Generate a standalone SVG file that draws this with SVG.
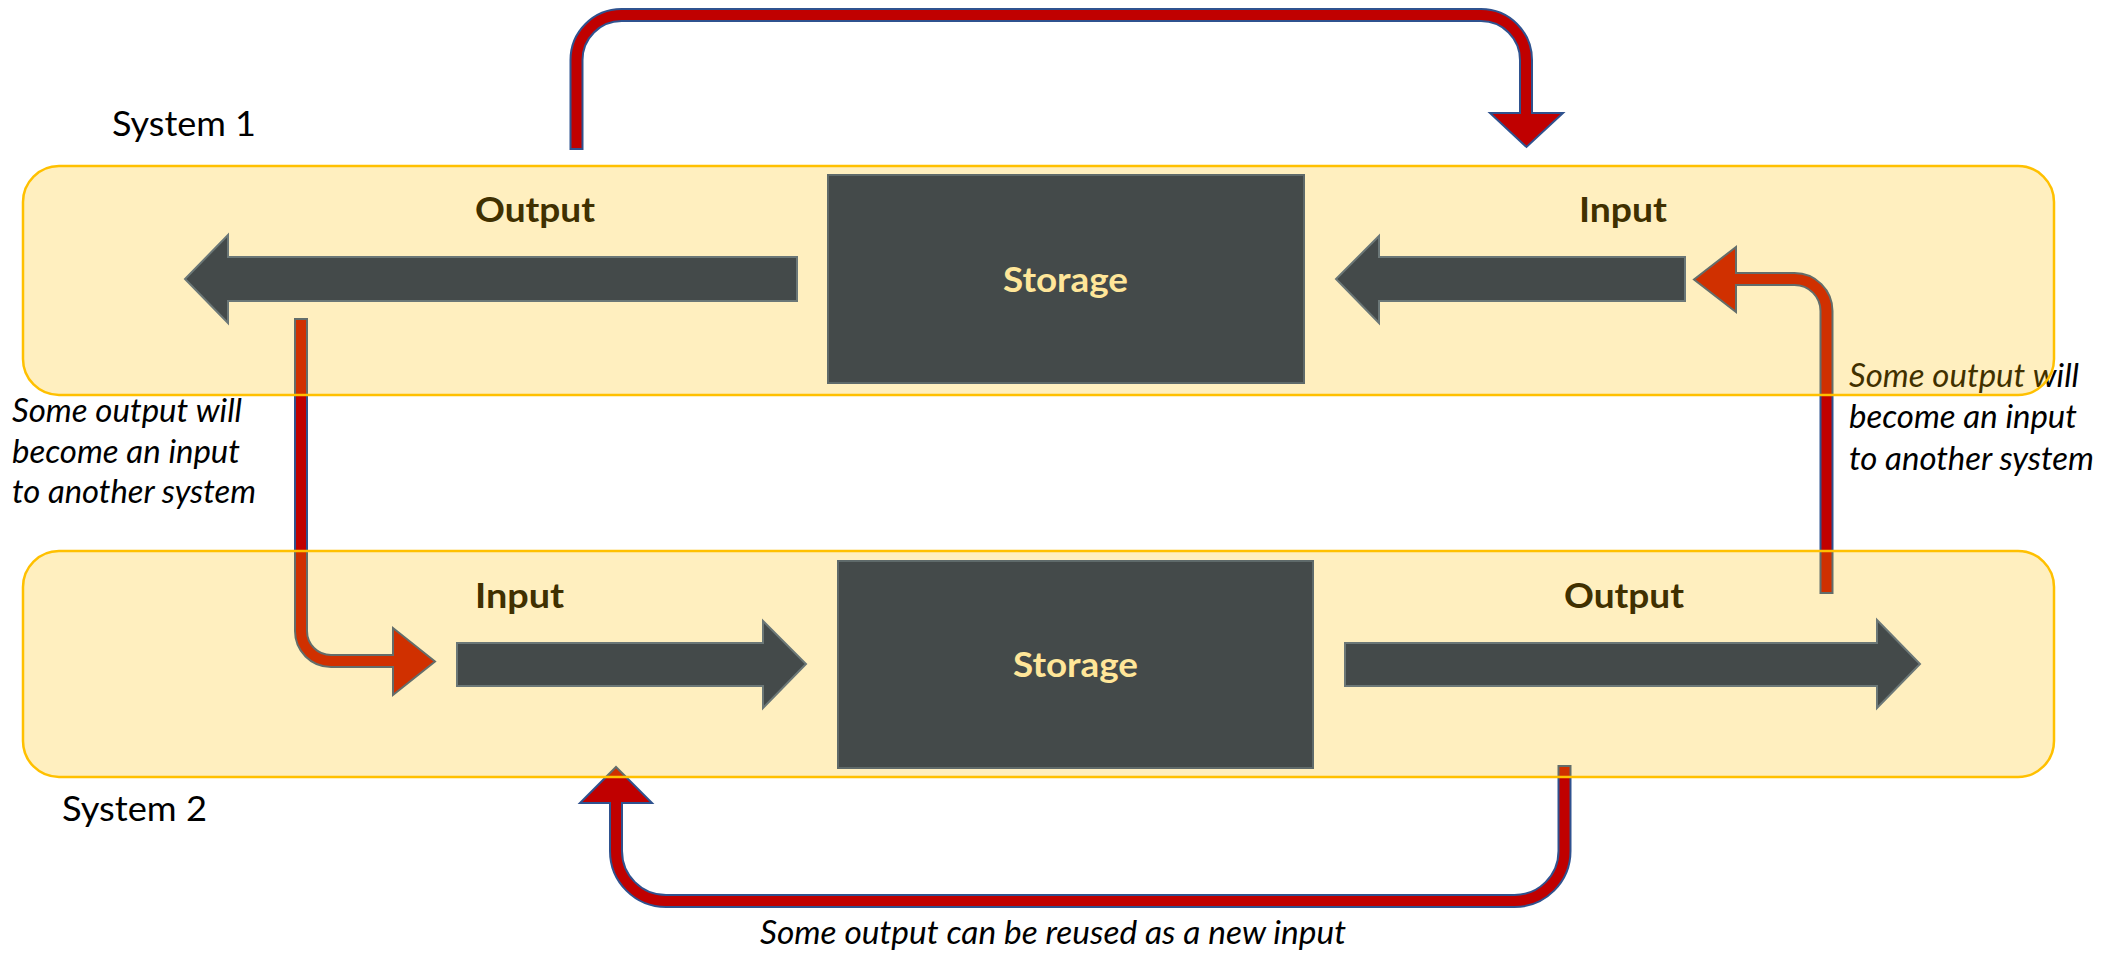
<svg xmlns="http://www.w3.org/2000/svg" width="2125" height="956" viewBox="0 0 2125 956">
<style>
.bg{fill:#ffffff}
.sys{fill:#FFC000;fill-opacity:0.25;stroke:#FFC000;stroke-width:2.5}
.flow{fill:#444A4A;stroke:#6B7777;stroke-width:2}
.store{fill:#444A4A;stroke:#5F6A6A;stroke-width:2}
.lbl{font-family:Lato,"Liberation Sans",sans-serif;font-weight:bold;font-size:35px;fill:#403000}
.stxt{font-family:Lato,"Liberation Sans",sans-serif;font-weight:bold;font-size:35px;fill:#FFE699}
.sysname{font-family:Lato,"Liberation Sans",sans-serif;font-size:34px;fill:#000000}
.note{font-family:Lato,"Liberation Sans",sans-serif;font-style:italic;font-size:32px;fill:#000000}
.rout{fill:none;stroke:#2F528F;stroke-width:14}
.rin{fill:none;stroke:#C00000;stroke-width:10}
.rhead{fill:#C00000;stroke:#2F528F;stroke-width:2;stroke-linejoin:miter}
</style>
<rect class="bg" x="0" y="0" width="2125" height="956"/>

<g id="connectors">
  <!-- top: System 1 output back to System 1 input -->
  <path class="rout" d="M576.5 150 V60 A45 45 0 0 1 621.5 15 H1481 A45 45 0 0 1 1526 60 V113"/>
  <polygon class="rhead" points="1490,113 1563,113 1526.5,147"/>
  <path class="rin" d="M576.5 148 V60 A45 45 0 0 1 621.5 15 H1481 A45 45 0 0 1 1526 60 V116"/>

  <!-- left: System 1 output to System 2 input -->
  <path class="rout" d="M301 318 V631 A30 30 0 0 0 331 661 H393"/>
  <polygon class="rhead" points="393,628 393,695 435,661.5"/>
  <path class="rin" d="M301 320 V631 A30 30 0 0 0 331 661 H396"/>

  <!-- right: System 2 output to System 1 input -->
  <path class="rout" d="M1826.5 594 V311 A32 32 0 0 0 1794.5 279 H1736"/>
  <polygon class="rhead" points="1736,247 1736,312 1694,279.5"/>
  <path class="rin" d="M1826.5 592 V311 A32 32 0 0 0 1794.5 279 H1733"/>

  <!-- bottom: System 2 output reused as System 2 input -->
  <path class="rout" d="M1564.5 765 V851 A50 50 0 0 1 1514.5 901 H666 A50 50 0 0 1 616 851 V803"/>
  <polygon class="rhead" points="580,803 652,803 616,767"/>
  <path class="rin" d="M1564.5 767 V851 A50 50 0 0 1 1514.5 901 H666 A50 50 0 0 1 616 851 V800"/>

  <text class="note" x="12" y="422" textLength="230" lengthAdjust="spacingAndGlyphs">Some output will</text>
  <text class="note" x="12" y="463" textLength="228" lengthAdjust="spacingAndGlyphs">become an input</text>
  <text class="note" x="12" y="503" textLength="244" lengthAdjust="spacingAndGlyphs">to another system</text>

  <text class="note" x="1849" y="387" textLength="230" lengthAdjust="spacingAndGlyphs">Some output will</text>
  <text class="note" x="1849" y="428" textLength="228" lengthAdjust="spacingAndGlyphs">become an input</text>
  <text class="note" x="1849" y="470" textLength="245" lengthAdjust="spacingAndGlyphs">to another system</text>

  <text class="note" x="760" y="944" textLength="586" lengthAdjust="spacingAndGlyphs">Some output can be reused as a new input</text>
</g>

<g id="system1">
  <rect class="sys" x="23" y="166" width="2031" height="229" rx="36" ry="36"/>
  <text class="sysname" x="112" y="136" textLength="144" lengthAdjust="spacingAndGlyphs">System 1</text>
  <g id="s1-output">
    <polygon class="flow" points="797,257 228,257 228,235 185,279 228,323 228,301 797,301"/>
    <text class="lbl" x="475" y="222" textLength="120" lengthAdjust="spacingAndGlyphs">Output</text>
  </g>
  <g id="s1-storage">
    <rect class="store" x="828" y="175" width="476" height="208"/>
    <text class="stxt" x="1003" y="292" textLength="125" lengthAdjust="spacingAndGlyphs">Storage</text>
  </g>
  <g id="s1-input">
    <polygon class="flow" points="1685,257 1379,257 1379,236 1336,279 1379,323 1379,301 1685,301"/>
    <text class="lbl" x="1579" y="222" textLength="88" lengthAdjust="spacingAndGlyphs">Input</text>
  </g>
</g>

<g id="system2">
  <rect class="sys" x="23" y="551" width="2031" height="226" rx="36" ry="36"/>
  <text class="sysname" x="62" y="821" textLength="145" lengthAdjust="spacingAndGlyphs">System 2</text>
  <g id="s2-input">
    <polygon class="flow" points="457,643 763,643 763,621 806,664 763,708 763,686 457,686"/>
    <text class="lbl" x="475" y="608" textLength="89" lengthAdjust="spacingAndGlyphs">Input</text>
  </g>
  <g id="s2-storage">
    <rect class="store" x="838" y="561" width="475" height="207"/>
    <text class="stxt" x="1013" y="677" textLength="125" lengthAdjust="spacingAndGlyphs">Storage</text>
  </g>
  <g id="s2-output">
    <polygon class="flow" points="1345,643 1877,643 1877,620 1920,664 1877,708 1877,686 1345,686"/>
    <text class="lbl" x="1564" y="608" textLength="120" lengthAdjust="spacingAndGlyphs">Output</text>
  </g>
</g>
</svg>
